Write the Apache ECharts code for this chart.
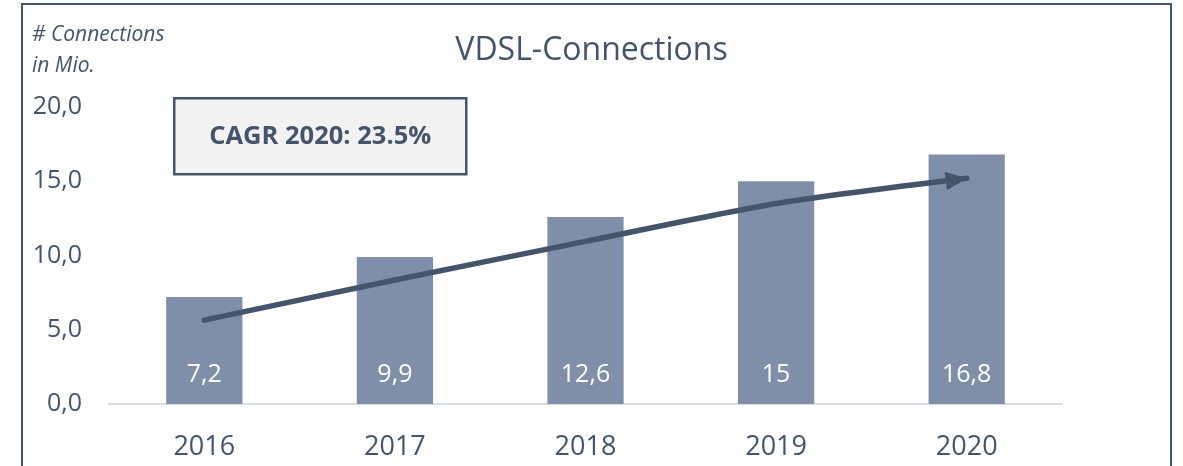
<!DOCTYPE html>
<html>
<head>
<meta charset="utf-8">
<script src="https://cdn.jsdelivr.net/npm/echarts@6/dist/echarts.min.js"></script>
<style>
html,body{margin:0;padding:0;background:#fff;}
#chart{width:1183px;height:466px;}
</style>
</head>
<body>
<div id="chart"></div>
<script>
const years = ['2016', '2017', '2018', '2019', '2020'];
const connections = [7.2, 9.9, 12.6, 15, 16.8];
const connectionLabels = ['7,2', '9,9', '12,6', '15', '16,8'];
const trendLine = [5.65, 8.35, 10.95, 13.5, 15.2];
const yTicks = [0, 5, 10, 15, 20];
const titleText = 'VDSL-Connections';
const unitText = '# Connections\nin Mio.';
const cagrText = 'CAGR 2020: 23.5%';

const FONT = '"Open Sans", "Noto Sans", sans-serif';
const DARK = '#44546a';
const BAR = '#7f8faa';

const chart = echarts.init(document.getElementById('chart'), null, {renderer: 'canvas'});

const trendData = trendLine.map((v, i) => {
  if (i === trendLine.length - 1) {
    return {
      value: v,
      symbol: 'triangle',
      symbolSize: [18, 22],
      symbolRotate: -82.5,
      symbolOffset: [-10, 1.3],
      itemStyle: {color: DARK}
    };
  }
  return {value: v, symbol: 'none'};
});

chart.setOption({
  animation: false,
  backgroundColor: '#ffffff',
  title: {
    text: titleText,
    left: 'center',
    top: 27,
    textStyle: {fontFamily: FONT, fontSize: 32, fontWeight: 'normal', color: DARK, lineHeight: 38}
  },
  grid: {left: 109, right: 121, top: 107, bottom: 62, containLabel: false},
  xAxis: {
    type: 'category',
    data: years,
    axisLine: {show: true, lineStyle: {color: '#d9dde5', width: 2}},
    axisTick: {show: false},
    axisLabel: {fontFamily: FONT, fontSize: 27, color: DARK, margin: 30, lineHeight: 27}
  },
  yAxis: {
    type: 'value',
    min: yTicks[0],
    max: yTicks[yTicks.length - 1],
    interval: yTicks[1] - yTicks[0],
    axisLine: {show: false},
    axisTick: {show: false},
    splitLine: {show: false},
    axisLabel: {
      fontFamily: FONT, fontSize: 25, color: DARK, margin: 27,
      formatter: v => v.toFixed(1).replace('.', ',')
    }
  },
  series: [
    {
      type: 'bar',
      data: connections,
      barWidth: '40%',
      itemStyle: {color: BAR},
      label: {
        show: true,
        position: 'insideBottom',
        distance: 17,
        color: '#ffffff',
        fontFamily: FONT,
        fontSize: 25,
        lineHeight: 25,
        formatter: p => connectionLabels[p.dataIndex]
      },
      z: 2
    },
    {
      type: 'line',
      data: trendData,
      smooth: 0.25,
      symbol: 'none',
      lineStyle: {color: DARK, width: 5.5, cap: 'round'},
      itemStyle: {color: DARK},
      z: 3,
      silent: true
    }
  ],
  graphic: [
    {
      type: 'rect',
      shape: {x: 22, y: 4, width: 1149, height: 600},
      style: {fill: 'none', stroke: DARK, lineWidth: 2},
      silent: true,
      z: 10
    },
    {
      type: 'text',
      left: 32,
      top: 20,
      style: {
        text: unitText,
        fontFamily: FONT,
        fontSize: 21,
        fontStyle: 'italic',
        fill: DARK,
        lineHeight: 31
      }
    },
    {
      type: 'group',
      left: 173,
      top: 97,
      children: [
        {
          type: 'rect',
          shape: {x: 0, y: 0, width: 292, height: 76},
          style: {fill: '#f2f2f2', stroke: DARK, lineWidth: 2.5}
        },
        {
          type: 'text',
          x: 146,
          y: 38,
          style: {
            text: cagrText,
            fontFamily: FONT,
            fontSize: 25.5,
            fontWeight: 'bold',
            fill: DARK,
            align: 'center',
            verticalAlign: 'middle'
          }
        }
      ]
    }
  ]
});
</script>
</body>
</html>
